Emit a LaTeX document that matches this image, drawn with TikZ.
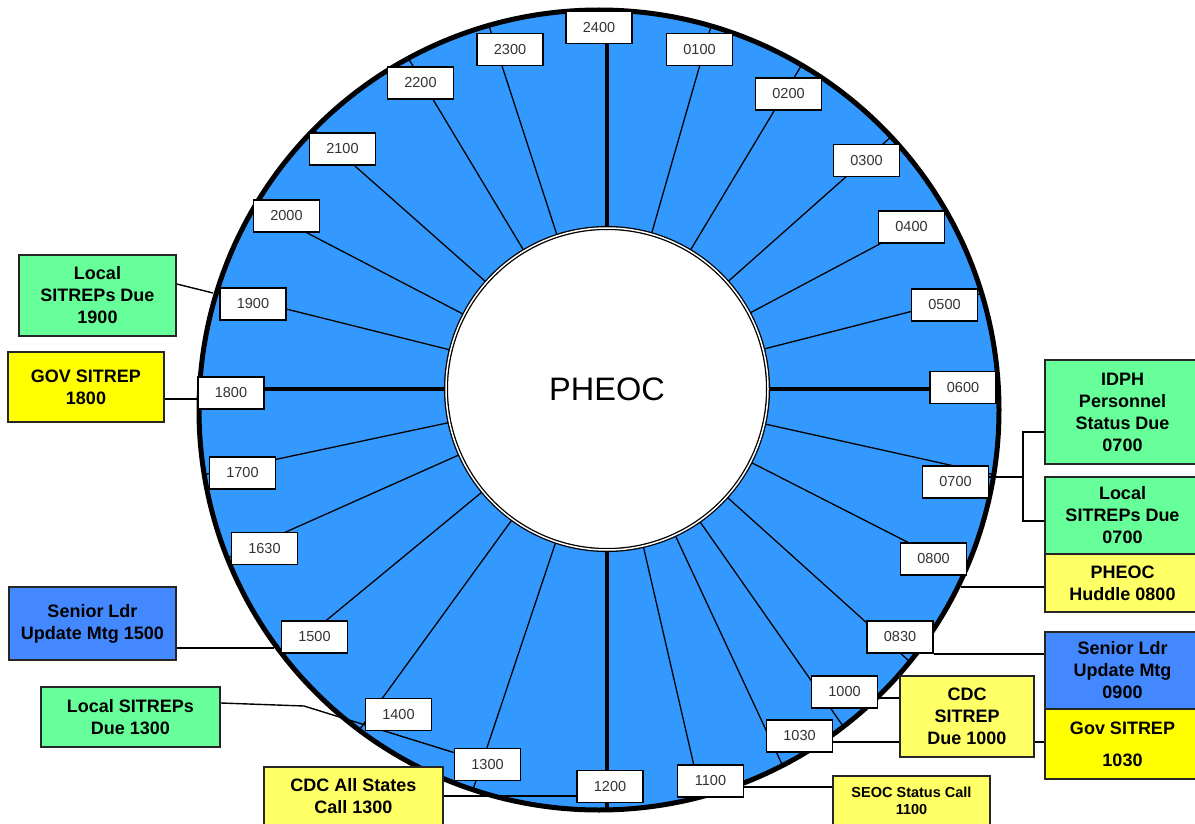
\documentclass[tikz,border=0pt]{standalone}
\usepackage{fontspec}
\setmainfont{Liberation Sans}
\usetikzlibrary{calc}
\pgfdeclarelayer{ring}
\pgfdeclarelayer{conn}
\pgfsetlayers{ring,conn,main}
\definecolor{ringblue}{RGB}{51,153,255}
\definecolor{evgreen}{RGB}{102,255,153}
\definecolor{evlyellow}{RGB}{255,255,102}
\definecolor{evyellow}{RGB}{255,255,0}
\definecolor{evblue}{RGB}{68,136,255}
\begin{document}
\begin{tikzpicture}[x=1pt,y=-1pt,
  tlabel/.style={draw=black, line width=1.6pt, fill=white, minimum width=66pt, minimum height=32pt, inner sep=0pt, font=\fontsize{14.5}{17}\selectfont, text=black!80},
  evbox/.style={draw=black!85, line width=1.5pt, inner sep=0pt, align=center, font=\fontsize{18}{22}\selectfont\bfseries},
  link/.style={draw=black, line width=1.4pt},
  thinspoke/.style={line width=1.3pt},
  thickspoke/.style={line width=4pt}]
\useasboundingbox (0,0) rectangle (1195,824);

% ring
\begin{pgfonlayer}{ring}
\fill[ringblue] (599,410) circle (400pt);
\begin{scope}
\clip (599,410) circle (400pt);
\foreach \a in {12.5,27,42,55,65,77,108.5,126,140.5,156,168,194,207.5,221.5,239,252,286,301,318.4,332,345.7}
  \draw[thinspoke] (607,389) -- ++(\a:450);
\foreach \a in {0,90,180,270}
  \draw[thickspoke] (607,389) -- ++(\a:450);
\end{scope}
\draw[line width=5pt] (599,410) circle (400pt);
\end{pgfonlayer}

\node[circle, draw=black, line width=1.3pt, double=white, double distance=1.5pt, fill=white, minimum size=322pt, inner sep=0pt, font=\fontsize{32.5}{38}\selectfont] (pheoc) at (607,389) {PHEOC};

% time labels
\node[tlabel] (t2400) at (599,27.5) {2400};
\node[tlabel] (t2300) at (510,49.5) {2300};
\node[tlabel] (t2200) at (420.5,83) {2200};
\node[tlabel] (t2100) at (342.5,149) {2100};
\node[tlabel] (t2000) at (286.5,216) {2000};
\node[tlabel] (t1900) at (253,304) {1900};
\node[tlabel] (t1800) at (231,393) {1800};
\node[tlabel] (t1700) at (242.5,473) {1700};
\node[tlabel] (t1630) at (264.5,548.5) {1630};
\node[tlabel] (t1500) at (314.5,637) {1500};
\node[tlabel] (t1400) at (398.5,714.5) {1400};
\node[tlabel] (t1300) at (487.5,764.5) {1300};
\node[tlabel] (t1200) at (610,786.5) {1200};
\node[tlabel] (t1100) at (710.5,781) {1100};
\node[tlabel] (t1030) at (799.5,736) {1030};
\node[tlabel] (t1000) at (844.5,692) {1000};
\node[tlabel] (t0830) at (900,637) {0830};
\node[tlabel] (t0800) at (933.5,559) {0800};
\node[tlabel] (t0700) at (955.5,482) {0700};
\node[tlabel] (t0600) at (963,387.5) {0600};
\node[tlabel] (t0500) at (944.5,305) {0500};
\node[tlabel] (t0400) at (911.5,227) {0400};
\node[tlabel] (t0300) at (866.5,160.5) {0300};
\node[tlabel] (t0200) at (788.5,94) {0200};
\node[tlabel] (t0100) at (699.5,49.5) {0100};

% event boxes
\node[evbox, fill=evgreen, minimum width=157pt, minimum height=81pt] (l1900) at (97.5,295.5) {Local\\SITREPs Due\\1900};
\node[evbox, fill=evyellow, minimum width=156pt, minimum height=70pt] (g1800) at (86,387) {GOV SITREP\\1800};
\node[evbox, fill=evblue, minimum width=167pt, minimum height=73pt] (s1500) at (92.5,623.5) {Senior Ldr\\Update Mtg 1500};
\node[evbox, fill=evgreen, minimum width=179pt, minimum height=60pt] (l1300) at (130.5,717) {Local SITREPs\\Due 1300};
\node[evbox, fill=evlyellow, minimum width=179pt, minimum height=58pt] (cdcall) at (353.5,796) {CDC All States\\Call 1300};
\node[evbox, fill=evgreen, minimum width=155pt, minimum height=104pt] (idph) at (1122.5,412) {IDPH\\Personnel\\Status Due\\0700};
\node[evbox, fill=evgreen, minimum width=155pt, minimum height=77pt] (l0700) at (1122.5,515.5) {Local\\SITREPs Due\\0700};
\node[evbox, fill=evlyellow, minimum width=155pt, minimum height=58pt] (huddle) at (1122.5,583) {PHEOC\\Huddle 0800};
\node[evbox, fill=evblue, minimum width=155pt, minimum height=77pt] (s0900) at (1122.5,670.5) {Senior Ldr\\Update Mtg\\0900};
\node[evbox, fill=evyellow, minimum width=155pt, minimum height=70pt] (gov1030) at (1122.5,744) {Gov SITREP\\[10pt]1030};
\node[evbox, fill=evlyellow, minimum width=134pt, minimum height=81pt] (cdc1000) at (967,716.5) {CDC\\SITREP\\Due 1000};
\node[evbox, fill=evlyellow, minimum width=157pt, minimum height=49pt, font=\fontsize{14.5}{17}\selectfont\bfseries] (seoc) at (911.5,800.5) {SEOC Status Call\\1100};

% connector points
\coordinate (c1900) at (213,293);
\coordinate (c1800) at (198,399);
\coordinate (c1500) at (274,648);
\coordinate (b1300) at (304,706);
\coordinate (c0800) at (961,587);
\coordinate (j0700a) at (1023,432);
\coordinate (j0700b) at (1023,521);
\coordinate (k0700) at ([yshift=5pt]t0700.east);
\coordinate (k1000) at ([yshift=-6pt]t1000.east);
\coordinate (k1030) at ([yshift=-6pt]t1030.east);
\coordinate (k1100) at ([yshift=-6pt]t1100.east);

\begin{pgfonlayer}{conn}
\draw[link] ([yshift=11.5pt]l1900.east) -- (c1900);
\draw[link] (c1800 -| g1800.east) -- (c1800);
\draw[link] (c1500 -| s1500.east) -- (c1500);
\draw[link] ([yshift=14pt]l1300.east) -- (b1300) -- ([yshift=12pt]t1300.west);
\draw[link] (cdcall.east) -- (cdcall.east -| t1200.west);
\draw[link] (k0700) -- (k0700 -| j0700a);
\draw[link] (j0700a -| idph.west) -- (j0700a) -- (j0700b) -- (j0700b -| l0700.west);
\draw[link] (c0800) -- (c0800 -| huddle.west);
\draw[link] (t0830.south east) -- (t0830.south east -| s0900.west);
\draw[link] (k1000) -- (k1000 -| cdc1000.west);
\draw[link] (k1030) -- (k1030 -| gov1030.west);
\draw[link] (k1100) -- (k1100 -| seoc.west);
\end{pgfonlayer}
\end{tikzpicture}
\end{document}
